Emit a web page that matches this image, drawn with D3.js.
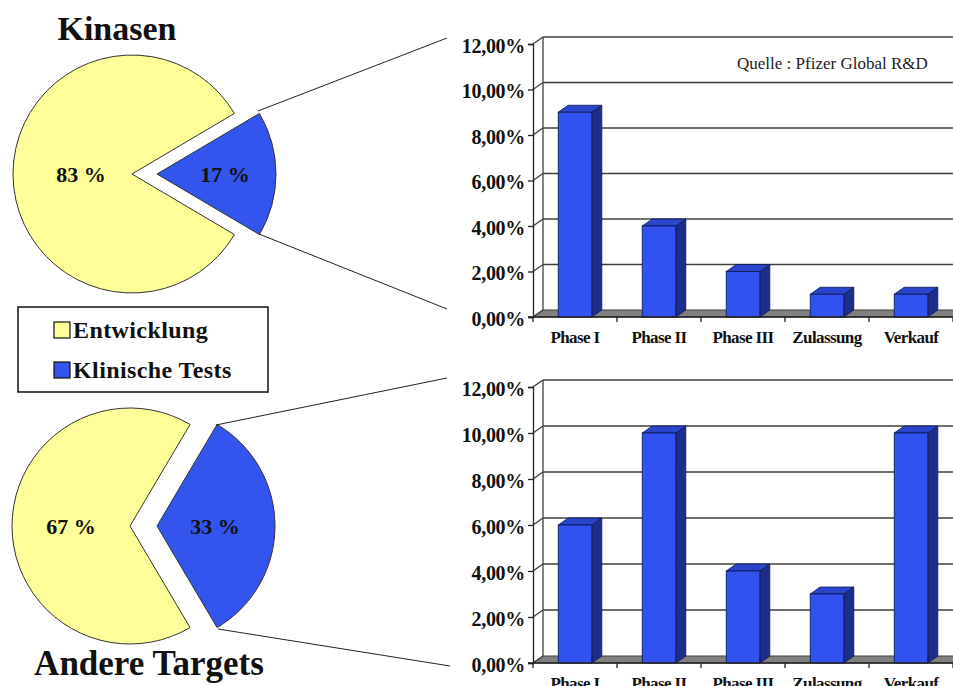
<!DOCTYPE html>
<html><head><meta charset="utf-8">
<script src="https://cdn.jsdelivr.net/npm/d3@7"></script>
<style>
html,body{margin:0;padding:0;background:#fff;}
svg{display:block;}
text{font-family:"Liberation Serif","Times New Roman",serif;}
</style></head>
<body>
<svg id="chart" width="953" height="686"></svg>
<script>
// ---------- DATA ----------
const categories = ["Phase I", "Phase II", "Phase III", "Zulassung", "Verkauf"];
const kinasenValues = [0.09, 0.04, 0.02, 0.01, 0.01];
const andereValues = [0.06, 0.10, 0.04, 0.03, 0.10];
const yTicks = [0, 0.02, 0.04, 0.06, 0.08, 0.10, 0.12];
const pieSeries = ["Entwicklung", "Klinische Tests"];
const kinasenShares = [83, 17];
const andereShares = [67, 33];
const pieTitles = ["Kinasen", "Andere Targets"];
const sourceNote = "Quelle : Pfizer Global R&D";

// ---------- STYLE ----------
const yellow = "#FFFF99", blue = "#3355EE";
const barFront = "#3152EE", barSide = "#1D2D8A", barTop = "#2A45CC";
const gridCol = "#404040";

const de = d3.formatLocale({decimal: ",", thousands: ".", grouping: [3], currency: ["", "€"]});
const pctFmt = de.format(".2%");

const svg = d3.select("#chart");

// ---------- 3D BAR CHART ----------
function barChart(values, frontBase, frontTop, labelBaseline, showNote) {
  const dx = 10, dy = -7;
  const x = d3.scaleBand().domain(categories).range([533, 953]).paddingInner(0.6).paddingOuter(0.3);
  const y = d3.scaleLinear().domain([0, 0.12]).range([frontBase, frontTop]);
  const g = svg.append("g");
  const x0 = x.range()[0], x1 = 960;

  // side wall (white) + floor
  g.append("path")
    .attr("d", `M${x0},${y(0)} L${x0 + dx},${y(0) + dy} L${x1},${y(0) + dy} L${x1},${y(0)} Z`)
    .attr("fill", "#808080").attr("stroke", gridCol).attr("stroke-width", 1);

  // gridlines on back wall + side wall diagonals
  yTicks.forEach(t => {
    const fy = y(t);
    g.append("line").attr("x1", x0).attr("y1", fy).attr("x2", x0 + dx).attr("y2", fy + dy)
      .attr("stroke", gridCol).attr("stroke-width", 1.3);
    if (t > 0) {
      g.append("line").attr("x1", x0 + dx).attr("y1", fy + dy).attr("x2", x1).attr("y2", fy + dy)
        .attr("stroke", gridCol).attr("stroke-width", 1.6);
    }
  });
  // back wall left edge
  g.append("line").attr("x1", x0 + dx).attr("x2", x0 + dx)
    .attr("y1", y(0.12) + dy).attr("y2", y(0) + dy).attr("stroke", gridCol).attr("stroke-width", 1.3);

  // bars
  const bars = g.selectAll("g.bar").data(values.map((v, i) => ({c: categories[i], v}))).join("g");
  bars.append("path").attr("d", d => {
    const a = x(d.c) + x.bandwidth(), yt = y(d.v), yb = y(0);
    return `M${a},${yb} L${a},${yt} L${a + dx},${yt + dy} L${a + dx},${yb + dy} Z`;
  }).attr("fill", barSide).attr("stroke", "#0b1650").attr("stroke-width", 0.8);
  bars.append("path").attr("d", d => {
    const a = x(d.c), b = a + x.bandwidth(), yt = y(d.v);
    return `M${a},${yt} L${a + dx},${yt + dy} L${b + dx},${yt + dy} L${b},${yt} Z`;
  }).attr("fill", barTop).attr("stroke", "#0b1650").attr("stroke-width", 0.8);
  bars.append("rect")
    .attr("x", d => x(d.c)).attr("y", d => y(d.v))
    .attr("width", x.bandwidth()).attr("height", d => y(0) - y(d.v))
    .attr("fill", barFront).attr("stroke", "#0b1650").attr("stroke-width", 0.8);

  // y axis (front)
  const ya = g.append("g").attr("transform", `translate(${x0},0)`)
    .call(d3.axisLeft(y).tickValues(yTicks).tickFormat(pctFmt).tickSize(5).tickPadding(3));
  ya.select(".domain").attr("stroke", "#222").attr("stroke-width", 1.3);
  ya.selectAll(".tick line").attr("stroke", "#222").attr("stroke-width", 1.3);
  ya.selectAll("text").attr("font-family", "'Liberation Serif','Times New Roman',serif")
    .attr("font-size", 20).attr("font-weight", "bold").attr("fill", "#111").attr("dy", "0.4em")
    .attr("letter-spacing", "-0.3");

  // x axis (front)
  g.append("line").attr("x1", x0 - 5).attr("x2", x1).attr("y1", y(0)).attr("y2", y(0))
    .attr("stroke", "#222").attr("stroke-width", 1.3);
  d3.range(categories.length + 1).forEach(i => {
    const tx = x0 + i * x.step();
    g.append("line").attr("x1", tx).attr("x2", tx).attr("y1", y(0)).attr("y2", y(0) + 5)
      .attr("stroke", "#222").attr("stroke-width", 1.3);
  });
  g.selectAll("text.cat").data(categories).join("text").attr("class", "cat")
    .attr("x", d => x(d) + x.bandwidth() / 2).attr("y", labelBaseline)
    .attr("text-anchor", "middle").attr("font-size", 17).attr("font-weight", "bold")
    .attr("letter-spacing", "-0.6").attr("fill", "#111").text(d => d);

  if (showNote) {
    g.append("text").attr("x", 737).attr("y", 69).attr("font-size", 17)
      .attr("fill", "#222").text(sourceNote);
  }
}

barChart(kinasenValues, 317, 44, 343, true);
barChart(andereValues, 663, 387, 689, false);

// ---------- PIES ----------
function pieChart(shares, cx, cy, r, explode, labelR) {
  // order: Klinische Tests first so it is centred on the right
  const data = [{k: pieSeries[1], v: shares[1], c: blue}, {k: pieSeries[0], v: shares[0], c: yellow}];
  const total = d3.sum(data, d => d.v);
  const start = Math.PI / 2 - Math.PI * data[0].v / total;
  const pie = d3.pie().value(d => d.v).sort(null).startAngle(start).endAngle(start + 2 * Math.PI);
  const arc = d3.arc().innerRadius(0).outerRadius(r);
  const arcs = pie(data);
  const g = svg.append("g").attr("transform", `translate(${cx},${cy})`);
  arcs.forEach((a, i) => {
    const mid = (a.startAngle + a.endAngle) / 2;
    const off = i === 0 ? explode : 0;
    const ox = Math.sin(mid) * off, oy = -Math.cos(mid) * off;
    const sg = g.append("g").attr("transform", `translate(${ox},${oy})`);
    sg.append("path").attr("d", arc(a)).attr("fill", a.data.c).attr("stroke", "#333").attr("stroke-width", 1);
    const lr = labelR[i];
    sg.append("text")
      .attr("x", Math.sin(mid) * lr).attr("y", -Math.cos(mid) * lr)
      .attr("text-anchor", "middle").attr("dy", "0.35em")
      .attr("font-size", 22).attr("font-weight", "bold").attr("fill", "#111")
      .text(a.data.v + " %");
  });
  return arcs;
}

pieChart(kinasenShares, 132, 174, 119, 25, [68, 51]);
pieChart(andereShares, 130, 526, 118, 27, [58, 59]);

// titles
svg.append("text").attr("x", 117).attr("y", 40).attr("text-anchor", "middle")
  .attr("font-size", 34).attr("font-weight", "bold").attr("fill", "#111").text(pieTitles[0]);
svg.append("text").attr("x", 149).attr("y", 675).attr("text-anchor", "middle")
  .attr("font-size", 35).attr("font-weight", "bold").attr("fill", "#111").text(pieTitles[1]);

// connector lines
const connectors = [
  [[258, 111], [447, 38]],
  [[259, 234], [447, 309]],
  [[216, 425], [447, 378]],
  [[218, 629], [450, 666]]
];
connectors.forEach(([a, b]) => {
  svg.append("line").attr("x1", a[0]).attr("y1", a[1]).attr("x2", b[0]).attr("y2", b[1])
    .attr("stroke", "#222").attr("stroke-width", 1);
});

// legend
const lg = svg.append("g");
lg.append("rect").attr("x", 18).attr("y", 307).attr("width", 250).attr("height", 85)
  .attr("fill", "#fff").attr("stroke", "#111").attr("stroke-width", 1.5);
const legColors = [yellow, blue];
pieSeries.forEach((s, i) => {
  lg.append("rect").attr("x", 54).attr("y", 322 + i * 40).attr("width", 16).attr("height", 16)
    .attr("fill", legColors[i]).attr("stroke", "#111").attr("stroke-width", 1.2);
  lg.append("text").attr("x", 73).attr("y", 338 + i * 40).attr("font-size", 24)
    .attr("font-weight", "bold").attr("letter-spacing", "0.4").attr("fill", "#111").text(s);
});
</script>
</body></html>
